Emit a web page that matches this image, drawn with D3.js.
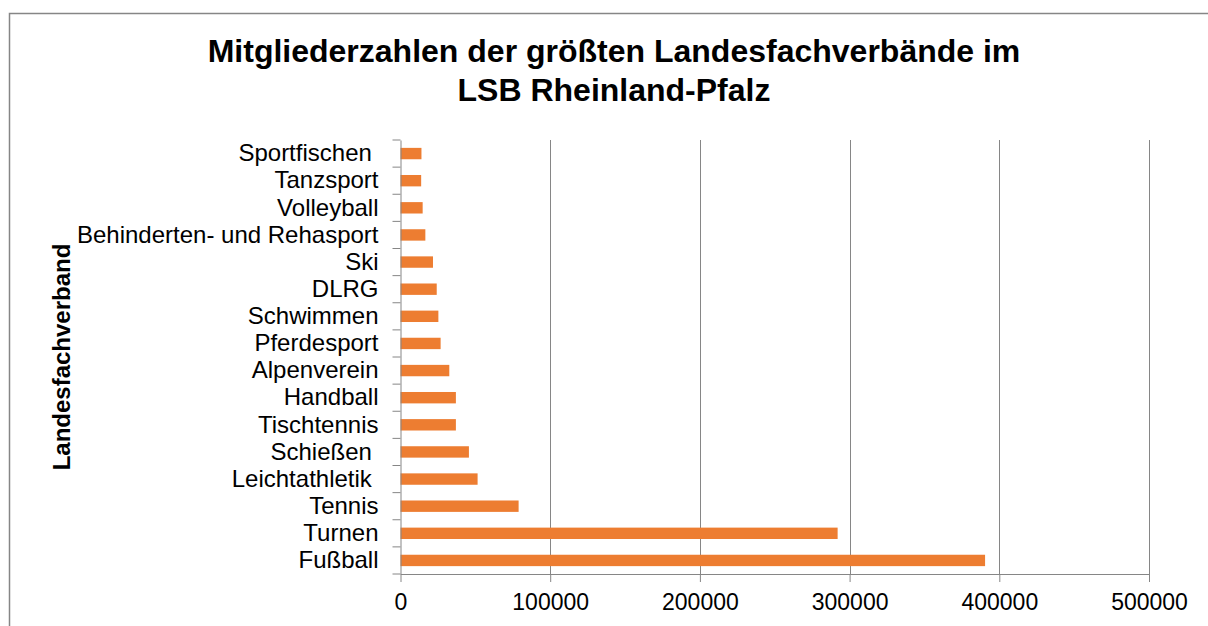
<!DOCTYPE html>
<html>
<head>
<meta charset="utf-8">
<script src="https://cdn.jsdelivr.net/npm/d3@7"></script>
<style>
  body { margin: 0; background: #fff; }
  svg { font-family: Arial, "Liberation Sans", sans-serif; }
</style>
</head>
<body>
<script>
// categories top to bottom, as in the chart
const verbaende = ['Sportfischen ', 'Tanzsport', 'Volleyball', 'Behinderten- und Rehasport', 'Ski', 'DLRG',
  'Schwimmen', 'Pferdesport', 'Alpenverein', 'Handball', 'Tischtennis', 'Schießen ', 'Leichtathletik ',
  'Tennis', 'Turnen', 'Fußball'];
const mitglieder = [14000, 13800, 14800, 16600, 21700, 24200, 25300, 26800, 32600, 37000, 37000,
  45700, 51500, 78900, 292000, 390500];
const xTicks = [0, 100000, 200000, 300000, 400000, 500000];

const width = 1208, height = 626;
const margin = { top: 140, left: 400.5, right: 59, bottom: 52 };
const gray = '#868686';

const svg = d3.select('body').append('svg')
  .attr('width', width)
  .attr('height', height);

// chart frame (runs off the right and bottom edges)
svg.append('rect')
  .attr('x', 9.5).attr('y', 13.5)
  .attr('width', 1400).attr('height', 800)
  .attr('fill', '#fff')
  .attr('stroke', gray).attr('stroke-width', 1.5);

svg.append('text')
  .attr('x', 614).attr('y', 62)
  .attr('text-anchor', 'middle')
  .attr('font-size', '32px').attr('font-weight', 'bold')
  .text('Mitgliederzahlen der größten Landesfachverbände im');
svg.append('text')
  .attr('x', 614).attr('y', 101)
  .attr('text-anchor', 'middle')
  .attr('font-size', '32px').attr('font-weight', 'bold')
  .text('LSB Rheinland-Pfalz');

const x = d3.scaleLinear()
  .domain([0, 500000])
  .range([margin.left, width - margin.right]);

const y = d3.scaleBand()
  .domain(verbaende)
  .range([margin.top, height - margin.bottom])
  .paddingInner(0.58)
  .paddingOuter(0.29);

// vertical gridlines
svg.append('g')
  .selectAll('line')
  .data(xTicks.slice(1))
  .enter()
  .append('line')
  .attr('x1', d => Math.round(x(d)) + 0.5)
  .attr('x2', d => Math.round(x(d)) + 0.5)
  .attr('y1', margin.top)
  .attr('y2', height - margin.bottom)
  .attr('stroke', gray);

// bars
svg.append('g')
  .selectAll('rect')
  .data(verbaende)
  .enter()
  .append('rect')
  .attr('x', x(0))
  .attr('y', d => y(d))
  .attr('width', (d, i) => x(mitglieder[i]) - x(0))
  .attr('height', y.bandwidth())
  .attr('fill', '#ED7D31');

// x axis
const xAxis = d3.axisBottom(x)
  .tickValues(xTicks)
  .tickFormat(d3.format('d'))
  .tickSize(8)
  .tickSizeOuter(0)
  .tickPadding(12);

const gx = svg.append('g')
  .attr('transform', 'translate(0,' + (height - margin.bottom) + ')')
  .call(xAxis);
gx.selectAll('path, line').attr('stroke', gray);
gx.selectAll('text').attr('font-size', '23px').attr('fill', '#000');
gx.attr('font-family', null);

// y axis (labels centred on bands, ticks on band boundaries)
const yAxis = d3.axisLeft(y)
  .tickSize(0)
  .tickPadding(22);

const gy = svg.append('g')
  .attr('transform', 'translate(' + margin.left + ',0)')
  .call(yAxis);
gy.select('path').attr('stroke', gray);
gy.selectAll('text')
  .attr('font-size', '24px')
  .attr('fill', '#000')
  .style('white-space', 'pre');
gy.attr('font-family', null);

const step = y.step();
const bounds = verbaende.map(d => y(d) - step * y.paddingInner() / 2)
  .concat([height - margin.bottom]);
bounds[0] = margin.top;
gy.selectAll('.bound')
  .data(bounds)
  .enter()
  .append('line')
  .attr('class', 'bound')
  .attr('x1', -8).attr('x2', 0)
  .attr('y1', d => d).attr('y2', d => d)
  .attr('stroke', gray);

// axis title
svg.append('text')
  .attr('transform', 'translate(70,' + (margin.top + height - margin.bottom) / 2 + ') rotate(-90)')
  .attr('text-anchor', 'middle')
  .attr('font-size', '24px').attr('font-weight', 'bold')
  .text('Landesfachverband');
</script>
</body>
</html>
